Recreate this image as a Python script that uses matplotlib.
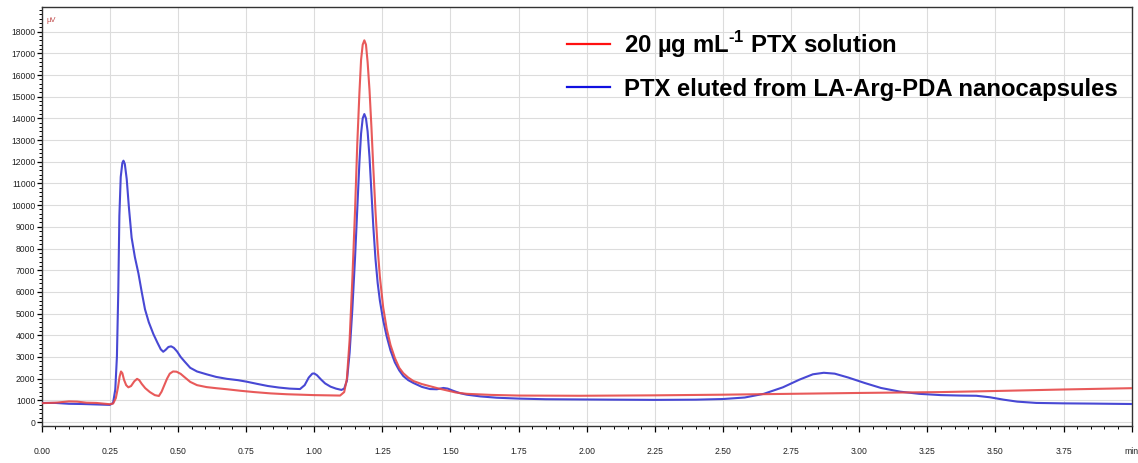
import numpy as np
import matplotlib
matplotlib.use('Agg')
import matplotlib.pyplot as plt
from matplotlib.lines import Line2D
from matplotlib.ticker import MultipleLocator

plt.rcParams['font.family'] = ['Liberation Sans', 'DejaVu Sans']
plt.rcParams['mathtext.fontset'] = 'custom'
plt.rcParams['mathtext.rm'] = 'Liberation Sans:bold'
plt.rcParams['mathtext.bf'] = 'Liberation Sans:bold'

# retention time (min) and signal
blue_t = [0.00, 0.05, 0.10, 0.15, 0.20, 0.25, 0.262, 0.270, 0.276, 0.281, 0.285, 0.290, 0.296, 0.300,
          0.305, 0.312, 0.320, 0.330, 0.342, 0.355, 0.367, 0.379, 0.393, 0.410, 0.425, 0.437, 0.446,
          0.455, 0.465, 0.475, 0.485, 0.497, 0.510, 0.525, 0.545, 0.570, 0.605, 0.640, 0.680, 0.720,
          0.752, 0.790, 0.830, 0.870, 0.910, 0.948, 0.965, 0.980, 0.993, 1.000, 1.010, 1.025, 1.040,
          1.060, 1.080, 1.100, 1.110, 1.120, 1.130, 1.140, 1.150, 1.158, 1.166, 1.172, 1.178, 1.184,
          1.190, 1.196, 1.203, 1.210, 1.217, 1.225, 1.233, 1.241, 1.253, 1.266, 1.280, 1.296, 1.312,
          1.327, 1.345, 1.364, 1.395, 1.425, 1.450, 1.474, 1.490, 1.510, 1.535, 1.560, 1.610, 1.670,
          1.750, 1.850, 1.975, 2.10, 2.25, 2.40, 2.50, 2.58, 2.65, 2.72, 2.78, 2.83, 2.87, 2.91, 2.96,
          3.02, 3.08, 3.15, 3.22, 3.30, 3.37, 3.43, 3.48, 3.53, 3.58, 3.65, 3.75, 3.85, 4.00]
blue_y = [880, 880, 840, 830, 810, 790, 880, 1500, 3000, 6000, 9500, 11300, 11950, 12050,
          11900, 11200, 9900, 8500, 7600, 6850, 6000, 5200, 4600, 4050, 3650, 3350, 3240,
          3330, 3460, 3490, 3420, 3250, 3000, 2780, 2500, 2330, 2200, 2080, 1990, 1930,
          1860, 1760, 1660, 1590, 1540, 1520, 1700, 2050, 2230, 2240, 2160, 1960, 1780,
          1630, 1540, 1480, 1540, 1900, 3200, 5200, 7600, 9800, 12000, 13300, 14000, 14200,
          14000, 13400, 12200, 10600, 9000, 7500, 6400, 5600, 4700, 3950, 3300, 2750, 2380,
          2120, 1930, 1800, 1620, 1520, 1510, 1570, 1540, 1440, 1330, 1260, 1180, 1120,
          1080, 1050, 1040, 1030, 1020, 1030, 1060, 1130, 1300, 1600, 1950, 2200, 2270, 2230, 2050,
          1800, 1570, 1400, 1300, 1240, 1220, 1210, 1140, 1030, 940, 880, 860, 850, 830]

red_t = [0.00, 0.05, 0.10, 0.13, 0.165, 0.20, 0.25, 0.262, 0.272, 0.280, 0.286, 0.291, 0.296, 0.302,
         0.310, 0.318, 0.328, 0.340, 0.350, 0.358, 0.367, 0.380, 0.397, 0.415, 0.430, 0.440, 0.450,
         0.460, 0.470, 0.482, 0.495, 0.510, 0.525, 0.545, 0.570, 0.605, 0.640, 0.680, 0.730, 0.780,
         0.840, 0.900, 1.000, 1.095, 1.110, 1.120, 1.130, 1.140, 1.150, 1.158, 1.166, 1.172, 1.178,
         1.184, 1.190, 1.196, 1.203, 1.210, 1.217, 1.225, 1.233, 1.241, 1.253, 1.266, 1.280, 1.296,
         1.312, 1.327, 1.345, 1.364, 1.395, 1.425, 1.455, 1.486, 1.520, 1.560, 1.650, 1.750, 1.976,
         2.25, 2.50, 2.75, 3.00, 3.30, 3.50, 3.75, 4.00]
red_y = [870, 890, 950, 940, 890, 880, 820, 850, 1100, 1600, 2100, 2330, 2250, 1950,
         1700, 1600, 1660, 1880, 1990, 1930, 1760, 1560, 1380, 1240, 1200, 1400, 1700,
         2000, 2230, 2330, 2320, 2220, 2060, 1850, 1700, 1610, 1560, 1510, 1440, 1380,
         1320, 1280, 1240, 1220, 1380, 2000, 3800, 6600, 9800, 12800, 15200, 16700, 17400,
         17600, 17400, 16600, 15300, 13600, 11700, 9700, 8000, 6700, 5300, 4300, 3550, 2950,
         2500, 2250, 2050, 1890, 1750, 1650, 1550, 1460, 1360, 1300, 1250, 1220, 1210,
         1230, 1260, 1300, 1340, 1380, 1430, 1500, 1560]

x_ticks = [0.0, 0.25, 0.5, 0.75, 1.0, 1.25, 1.5, 1.75, 2.0, 2.25, 2.5, 2.75, 3.0, 3.25, 3.5, 3.75, 4.0]
x_labels = ['0.00', '0.25', '0.50', '0.75', '1.00', '1.25', '1.50', '1.75', '2.00',
            '2.25', '2.50', '2.75', '3.00', '3.25', '3.50', '3.75', 'min']
y_ticks = list(range(0, 18001, 1000))

labels = [r'20 µg mL$^{\text{-1}}$ PTX solution', 'PTX eluted from LA-Arg-PDA nanocapsules']

fig = plt.figure(figsize=(11.38, 4.63), dpi=100)
ax = fig.add_axes([41.7 / 1138, 1 - 425.7 / 463, 1090 / 1138, 419 / 463])

ax.plot(blue_t, blue_y, color='#4848d4', lw=1.5, zorder=3)
ax.plot(red_t, red_y, color='#e64848', lw=1.5, zorder=3, alpha=0.9)

ax.set_xlim(0, 4.0)
ax.set_ylim(-170, 19150)
ax.set_xticks(x_ticks)
ax.set_xticklabels(x_labels)
ax.set_yticks(y_ticks)
ax.xaxis.set_minor_locator(MultipleLocator(0.05))
ax.yaxis.set_minor_locator(MultipleLocator(200))

ax.tick_params(axis='x', which='major', direction='out', length=4, width=0.9, pad=11,
               labelsize=6.2, labelcolor='#222222')
ax.tick_params(axis='y', which='major', direction='out', length=3.5, width=0.9, pad=1,
               labelsize=6.2, labelcolor='#222222')
ax.tick_params(which='minor', direction='out', length=2, width=0.7)

ax.grid(True, which='major', color='#dcdcdc', lw=0.8, zorder=0)
for s in ax.spines.values():
    s.set_color('#333333')
    s.set_linewidth(1.0)

ax.text(0.004, 0.975, 'µV', transform=ax.transAxes, fontsize=5.5, color='#c04848',
        ha='left', va='top')

handles = [Line2D([], [], color='#ff1010', lw=1.6), Line2D([], [], color='#1010e0', lw=1.6)]
leg = ax.legend(handles, labels, loc='upper left', bbox_to_anchor=(567 / 1138, 1 - 29 / 463),
                bbox_transform=fig.transFigure, frameon=False, borderpad=0, borderaxespad=0,
                handlelength=1.82, handletextpad=0.55, labelspacing=0.75,
                prop={'size': 17.2, 'weight': 'bold'})

fig.savefig('out.png', dpi=100)
